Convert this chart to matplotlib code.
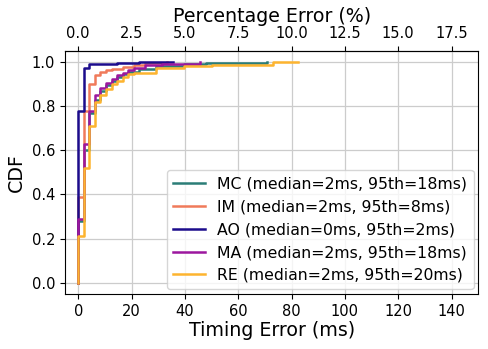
import matplotlib
matplotlib.use("Agg")
import matplotlib.pyplot as plt

# step locations (ms) and CDF values
mc_x = [0, 0, 2.08, 4.17, 6.25, 8.33, 10.42, 12.5, 14.58, 16.67, 18.75, 22.92, 29.17, 39.58, 47.92, 70.83]
mc_y = [0, 0.28, 0.60, 0.77, 0.83, 0.87, 0.895, 0.915, 0.93, 0.945, 0.955, 0.968, 0.982, 0.992, 0.997, 1.0]

im_x = [0, 0, 2.08, 4.17, 6.25, 8.33, 10.42, 12.5, 16.67, 20.83, 25.0, 33.33]
im_y = [0, 0.39, 0.78, 0.90, 0.94, 0.955, 0.962, 0.968, 0.978, 0.988, 0.994, 1.0]

ao_x = [0, 0, 2.08, 4.17, 8.33, 14.58, 22.92, 35.42]
ao_y = [0, 0.78, 0.975, 0.99, 0.993, 0.996, 0.998, 1.0]

ma_x = [0, 0, 2.08, 4.17, 6.25, 8.33, 10.42, 12.5, 14.58, 16.67, 18.75, 20.83, 25.0, 31.25, 45.83]
ma_y = [0, 0.29, 0.63, 0.78, 0.85, 0.88, 0.905, 0.925, 0.94, 0.95, 0.962, 0.975, 0.985, 0.992, 1.0]

re_x = [0, 0, 2.08, 4.17, 6.25, 8.33, 10.42, 12.5, 14.58, 16.67, 18.75, 20.83, 29.17, 39.58, 50.0, 72.92, 82.29]
re_y = [0, 0.21, 0.52, 0.71, 0.82, 0.85, 0.877, 0.90, 0.914, 0.93, 0.945, 0.952, 0.975, 0.982, 0.988, 0.998, 1.0]

labels = ["MC (median=2ms, 95th=18ms)",
          "IM (median=2ms, 95th=8ms)",
          "AO (median=0ms, 95th=2ms)",
          "MA (median=2ms, 95th=18ms)",
          "RE (median=2ms, 95th=20ms)"]
colors = ["#2b7d77", "#f07a5a", "#1c0c8c", "#9c179e", "#fdb42f"]
pct_ticks = [0.0, 2.5, 5.0, 7.5, 10.0, 12.5, 15.0, 17.5]

fig = plt.figure(figsize=(4.88, 3.49), dpi=100)
ax = fig.add_axes([0.133, 0.158, 0.847, 0.696])

series = [(mc_x, mc_y), (im_x, im_y), (ao_x, ao_y), (ma_x, ma_y), (re_x, re_y)]
for (x, y), lab, c in zip(series, labels, colors):
    ax.step(x, y, where="post", color=c, lw=1.8, label=lab)

ax.set_xlim(-5, 150)
ax.set_ylim(-0.05, 1.05)
ax.set_xticks([0, 20, 40, 60, 80, 100, 120, 140])
ax.set_yticks([0.0, 0.2, 0.4, 0.6, 0.8, 1.0])
ax.grid(True, color="#cccccc", lw=0.9)
ax.set_axisbelow(True)
ax.tick_params(labelsize=10.5)
ax.set_xlabel("Timing Error (ms)", fontsize=13.7, labelpad=2)
ax.set_ylabel("CDF", fontsize=13.7, labelpad=4)

top = ax.secondary_xaxis("top", functions=(lambda v: v / 8.0, lambda v: v * 8.0))
top.set_xticks(pct_ticks)
top.tick_params(labelsize=10.5)
top.set_xlabel("Percentage Error (%)", fontsize=13.7, labelpad=3)

ax.legend(loc="lower right", fontsize=11.3, handlelength=2.0, borderaxespad=0.3)

fig.savefig("out.png", dpi=100)
